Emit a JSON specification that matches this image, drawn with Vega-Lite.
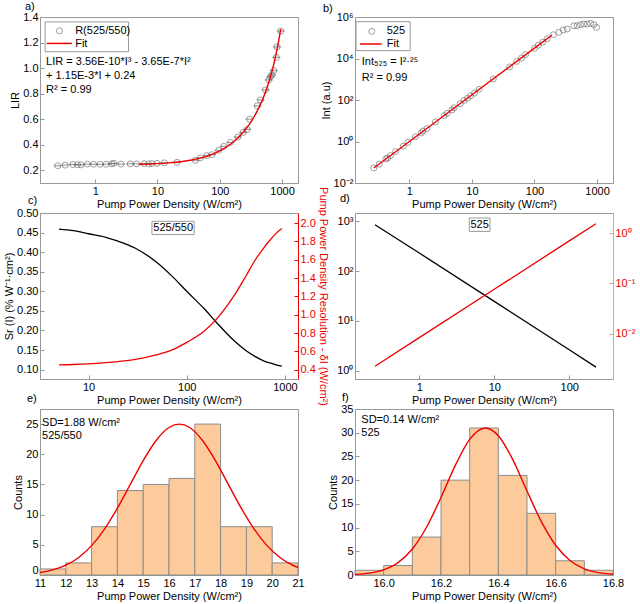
{
  "$schema": "https://vega.github.io/schema/vega-lite/v6.json",
  "padding": {"left": 3, "top": 0, "right": 4, "bottom": 2},
  "config": {
    "font": "Liberation Sans",
    "view": {"stroke": "#999999"},
    "axis": {"labelFont": "Liberation Sans", "titleFont": "Liberation Sans", "labelFontSize": 11, "titleFontSize": 11, "titleFontWeight": "normal", "labelColor": "#000000", "titleColor": "#000000", "domainColor": "#999999", "tickColor": "#999999", "tickSize": -4, "labelPadding": 6, "titlePadding": 2, "grid": false, "labelFlush": false, "labelOverlap": false},
    "title": {"fontSize": 11, "fontWeight": "normal", "font": "Liberation Sans", "anchor": "start", "frame": "group", "color": "#000000"},
    "text": {"font": "Liberation Sans", "fontSize": 11, "color": "#000000"}
  },
  "datasets": {
    "lirPts": [
      {"I": 0.25, "LIR": 0.235}, {"I": 0.33, "LIR": 0.24}, {"I": 0.44, "LIR": 0.245}, {"I": 0.52, "LIR": 0.243}, {"I": 0.59, "LIR": 0.242}, {"I": 0.75, "LIR": 0.248}, {"I": 0.94, "LIR": 0.247}, {"I": 1.2, "LIR": 0.246}, {"I": 1.5, "LIR": 0.247}, {"I": 1.85, "LIR": 0.25}, {"I": 2.0, "LIR": 0.254}, {"I": 2.6, "LIR": 0.248}, {"I": 3.65, "LIR": 0.25}, {"I": 4.6, "LIR": 0.25}, {"I": 6.1, "LIR": 0.252}, {"I": 7.2, "LIR": 0.25}, {"I": 8.1, "LIR": 0.252}, {"I": 9.8, "LIR": 0.254}, {"I": 12.9, "LIR": 0.258}, {"I": 20.6, "LIR": 0.262}, {"I": 40.5, "LIR": 0.278}, {"I": 48.8, "LIR": 0.297}, {"I": 62, "LIR": 0.315}, {"I": 75, "LIR": 0.322}, {"I": 96, "LIR": 0.356}, {"I": 116, "LIR": 0.387}, {"I": 148, "LIR": 0.418}, {"I": 194, "LIR": 0.46}, {"I": 237, "LIR": 0.496}, {"I": 275, "LIR": 0.52}, {"I": 300, "LIR": 0.6}, {"I": 400, "LIR": 0.704}, {"I": 450, "LIR": 0.751}, {"I": 541, "LIR": 0.829}, {"I": 612, "LIR": 0.907}, {"I": 650, "LIR": 0.933}, {"I": 690, "LIR": 0.946}, {"I": 735, "LIR": 0.98}, {"I": 810, "LIR": 1.084}, {"I": 830, "LIR": 1.166}, {"I": 950, "LIR": 1.29}
    ],
    "lirFit": [
      {"I": 5, "LIR": 0.2457}, {"I": 7, "LIR": 0.248}, {"I": 10, "LIR": 0.2514}, {"I": 15, "LIR": 0.2572}, {"I": 20, "LIR": 0.2629}, {"I": 30, "LIR": 0.2742}, {"I": 50, "LIR": 0.2966}, {"I": 70, "LIR": 0.3188}, {"I": 100, "LIR": 0.3517}, {"I": 150, "LIR": 0.4055}, {"I": 200, "LIR": 0.4583}, {"I": 300, "LIR": 0.5618}, {"I": 400, "LIR": 0.6644}, {"I": 500, "LIR": 0.7683}, {"I": 600, "LIR": 0.8755}, {"I": 700, "LIR": 0.9883}, {"I": 800, "LIR": 1.1087}, {"I": 900, "LIR": 1.2389}, {"I": 950, "LIR": 1.306}
    ],
    "intPts": [
      {"I": 0.27, "Int": 0.053}, {"I": 0.33, "Int": 0.08}, {"I": 0.42, "Int": 0.145}, {"I": 0.45, "Int": 0.16}, {"I": 0.5, "Int": 0.21}, {"I": 0.6, "Int": 0.33}, {"I": 0.8, "Int": 0.6}, {"I": 0.95, "Int": 0.9}, {"I": 1.25, "Int": 1.7}, {"I": 1.55, "Int": 2.6}, {"I": 1.65, "Int": 3.2}, {"I": 1.9, "Int": 4.2}, {"I": 2.6, "Int": 8.8}, {"I": 3.6, "Int": 17.5}, {"I": 4.0, "Int": 23}, {"I": 4.8, "Int": 33}, {"I": 5.2, "Int": 42}, {"I": 6.5, "Int": 66}, {"I": 7.5, "Int": 95}, {"I": 8.5, "Int": 120}, {"I": 9.5, "Int": 160}, {"I": 11, "Int": 215}, {"I": 13, "Int": 330}, {"I": 22, "Int": 1030}, {"I": 40, "Int": 3900}, {"I": 52, "Int": 7300}, {"I": 62, "Int": 10500}, {"I": 72, "Int": 15500}, {"I": 100, "Int": 31000}, {"I": 115, "Int": 44000}, {"I": 135, "Int": 61000}, {"I": 160, "Int": 90000}, {"I": 200, "Int": 140000}, {"I": 245, "Int": 182000}, {"I": 288, "Int": 237000}, {"I": 333, "Int": 263000}, {"I": 425, "Int": 380000}, {"I": 480, "Int": 380000}, {"I": 545, "Int": 427000}, {"I": 614, "Int": 457000}, {"I": 697, "Int": 457000}, {"I": 788, "Int": 490000}, {"I": 890, "Int": 427000}, {"I": 980, "Int": 316000}
    ],
    "intFit": [
      {"I": 0.27, "Int": 0.0526}, {"I": 1, "Int": 1}, {"I": 10, "Int": 177.8}, {"I": 100, "Int": 31623}, {"I": 191, "Int": 135600}
    ],
    "sensC": [
      {"I": 5, "Sr": 0.459, "dI": 0.455}, {"I": 7, "Sr": 0.455, "dI": 0.458}, {"I": 10, "Sr": 0.447, "dI": 0.465}, {"I": 15, "Sr": 0.438, "dI": 0.478}, {"I": 20, "Sr": 0.428, "dI": 0.49}, {"I": 30, "Sr": 0.41, "dI": 0.513}, {"I": 50, "Sr": 0.373, "dI": 0.565}, {"I": 70, "Sr": 0.34, "dI": 0.615}, {"I": 100, "Sr": 0.3, "dI": 0.7}, {"I": 150, "Sr": 0.256, "dI": 0.82}, {"I": 200, "Sr": 0.221, "dI": 0.95}, {"I": 300, "Sr": 0.175, "dI": 1.2}, {"I": 400, "Sr": 0.149, "dI": 1.42}, {"I": 500, "Sr": 0.133, "dI": 1.6}, {"I": 600, "Sr": 0.123, "dI": 1.72}, {"I": 700, "Sr": 0.117, "dI": 1.81}, {"I": 800, "Sr": 0.113, "dI": 1.88}, {"I": 930, "Sr": 0.109, "dI": 1.94}
    ],
    "sensD": [
      {"I": 0.257, "Sr": 853, "dI": 0.00226}, {"I": 1, "Sr": 231, "dI": 0.00836}, {"I": 10, "Sr": 24.7, "dI": 0.0764}, {"I": 100, "Sr": 2.64, "dI": 0.698}, {"I": 227, "Sr": 1.18, "dI": 1.53}
    ],
    "histE": [
      {"x0": 11, "x1": 12, "count": 1}, {"x0": 12, "x1": 13, "count": 2}, {"x0": 13, "x1": 14, "count": 8}, {"x0": 14, "x1": 15, "count": 14}, {"x0": 15, "x1": 16, "count": 15}, {"x0": 16, "x1": 17, "count": 16}, {"x0": 17, "x1": 18, "count": 25}, {"x0": 18, "x1": 19, "count": 8}, {"x0": 19, "x1": 20, "count": 8}, {"x0": 20, "x1": 21, "count": 2}
    ],
    "gaussE": [
      {"x": 11, "y": 0.404}, {"x": 11.5, "y": 0.837}, {"x": 12, "y": 1.616}, {"x": 12.5, "y": 2.91}, {"x": 13, "y": 4.87}, {"x": 13.5, "y": 7.61}, {"x": 14, "y": 11.07}, {"x": 14.5, "y": 15.0}, {"x": 15, "y": 18.95}, {"x": 15.5, "y": 22.29}, {"x": 16, "y": 24.44}, {"x": 16.4, "y": 25}, {"x": 16.8, "y": 24.44}, {"x": 17.3, "y": 22.29}, {"x": 17.8, "y": 18.95}, {"x": 18.3, "y": 15.0}, {"x": 18.8, "y": 11.07}, {"x": 19.3, "y": 7.61}, {"x": 19.8, "y": 4.87}, {"x": 20.3, "y": 2.91}, {"x": 20.8, "y": 1.616}, {"x": 21, "y": 1.25}
    ],
    "histF": [
      {"x0": 15.9, "x1": 16.0, "count": 1}, {"x0": 16.0, "x1": 16.1, "count": 2}, {"x0": 16.1, "x1": 16.2, "count": 8}, {"x0": 16.2, "x1": 16.3, "count": 20}, {"x0": 16.3, "x1": 16.4, "count": 31}, {"x0": 16.4, "x1": 16.5, "count": 21}, {"x0": 16.5, "x1": 16.6, "count": 13}, {"x0": 16.6, "x1": 16.7, "count": 3}, {"x0": 16.7, "x1": 16.8, "count": 1}
    ],
    "gaussF": [
      {"x": 15.9, "y": 0.125}, {"x": 15.95, "y": 0.39}, {"x": 16.0, "y": 1.08}, {"x": 16.05, "y": 2.6}, {"x": 16.1, "y": 5.48}, {"x": 16.15, "y": 10.12}, {"x": 16.2, "y": 16.35}, {"x": 16.25, "y": 23.11}, {"x": 16.3, "y": 28.6}, {"x": 16.355, "y": 31}, {"x": 16.4, "y": 29.37}, {"x": 16.45, "y": 24.38}, {"x": 16.5, "y": 17.71}, {"x": 16.55, "y": 11.26}, {"x": 16.6, "y": 6.27}, {"x": 16.65, "y": 3.05}, {"x": 16.7, "y": 1.3}, {"x": 16.75, "y": 0.49}, {"x": 16.8, "y": 0.16}
    ]
  },
  "columns": 2,
  "spacing": {"row": 30, "column": 57},
  "bounds": "flush",
  "concat": [
    {
      "width": 258, "height": 166,
      "title": {"text": "a)", "dx": -15, "offset": -1},
      "layer": [
        {
          "data": {"name": "lirPts"},
          "mark": {"type": "point", "filled": false, "size": 36, "strokeWidth": 0.9, "color": "#666666"},
          "encoding": {
            "x": {"field": "I", "type": "quantitative", "scale": {"type": "log", "domain": [0.13, 1800], "nice": false}, "axis": {"values": [1, 10, 100, 1000], "tickCount": 50, "format": "d", "labelOverlap": false, "title": "Pump Power Density (W/cm²)"}},
            "y": {"field": "LIR", "type": "quantitative", "scale": {"domain": [0.1, 1.4], "nice": false, "zero": false}, "axis": {"values": [0.2, 0.4, 0.6, 0.8, 1.0, 1.2, 1.4], "tickCount": 50, "format": ".1f", "labelOverlap": false, "title": "LIR"}}
          }
        },
        {
          "data": {"name": "lirPts"},
          "mark": {"type": "point", "shape": "stroke", "size": 64, "strokeWidth": 0.9, "color": "#555555"},
          "encoding": {"x": {"field": "I", "type": "quantitative", "scale": {"type": "log", "domain": [0.13, 1800], "nice": false}}, "y": {"field": "LIR", "type": "quantitative"}}
        },
        {
          "data": {"name": "lirFit"},
          "mark": {"type": "line", "strokeWidth": 1.4, "interpolate": "monotone", "color": "#ee0000"},
          "encoding": {"x": {"field": "I", "type": "quantitative", "scale": {"type": "log", "domain": [0.13, 1800], "nice": false}}, "y": {"field": "LIR", "type": "quantitative"}}
        },
        {
          "data": {"values": [{}]},
          "mark": {"type": "rect", "fill": "transparent", "stroke": "#999999", "strokeWidth": 1},
          "encoding": {"x": {"datum": 0.157}, "x2": {"datum": 3.43}, "y": {"datum": 1.361}, "y2": {"datum": 1.128}}
        },
        {
          "data": {"values": [{}]},
          "mark": {"type": "point", "filled": false, "size": 36, "strokeWidth": 0.9, "color": "#666666"},
          "encoding": {"x": {"datum": 0.267}, "y": {"datum": 1.291}}
        },
        {
          "data": {"values": [{}]},
          "mark": {"type": "rule", "color": "#ee0000", "strokeWidth": 1.5},
          "encoding": {"x": {"datum": 0.167}, "x2": {"datum": 0.422}, "y": {"datum": 1.193}}
        },
        {
          "data": {"values": [{}]},
          "mark": {"type": "text", "align": "left", "baseline": "middle", "fontSize": 11, "lineHeight": 12.6},
          "encoding": {"x": {"datum": 0.477}, "y": {"datum": 1.291}, "text": {"value": ["R(525/550)", "Fit"]}}
        },
        {
          "data": {"values": [{}]},
          "mark": {"type": "text", "align": "left", "baseline": "middle", "fontSize": 11, "lineHeight": 13.8},
          "encoding": {"x": {"datum": 0.163}, "y": {"datum": 1.048}, "text": {"value": ["LIR = 3.56E-10*I³ - 3.65E-7*I²", "+ 1.15E-3*I + 0.24", "R² = 0.99"]}}
        }
      ]
    },
    {
      "width": 258, "height": 166,
      "title": {"text": "b)", "dx": -32, "offset": -2.5},
      "layer": [
        {
          "data": {"name": "intPts"},
          "mark": {"type": "point", "filled": false, "size": 36, "strokeWidth": 0.9, "color": "#666666"},
          "encoding": {
            "x": {"field": "I", "type": "quantitative", "scale": {"type": "log", "domain": [0.135, 1800], "nice": false}, "axis": {"values": [1, 10, 100, 1000], "tickCount": 50, "format": "d", "labelOverlap": false, "title": "Pump Power Density (W/cm²)"}},
            "y": {"field": "Int", "type": "quantitative", "scale": {"type": "log", "domain": [0.01, 1000000], "nice": false}, "axis": {"values": [0.01, 1, 100, 10000, 1000000], "tickCount": 50, "labelOverlap": false, "title": "Int (a.u)", "labelExpr": "'10' + (round(log(datum.value)/LN10) < 0 ? '⁻' : '') + substring('⁰¹²³⁴⁵⁶⁷⁸⁹', abs(round(log(datum.value)/LN10)), abs(round(log(datum.value)/LN10)) + 1)"}}
          }
        },
        {
          "data": {"name": "intFit"},
          "mark": {"type": "line", "strokeWidth": 1.4, "color": "#ee0000"},
          "encoding": {"x": {"field": "I", "type": "quantitative", "scale": {"type": "log", "domain": [0.135, 1800], "nice": false}}, "y": {"field": "Int", "type": "quantitative", "scale": {"type": "log", "domain": [0.01, 1000000], "nice": false}}}
        },
        {
          "data": {"values": [{}]},
          "mark": {"type": "rect", "fill": "transparent", "stroke": "#999999", "strokeWidth": 1},
          "encoding": {"x": {"datum": 0.14}, "x2": {"datum": 1.03}, "y": {"datum": 594000}, "y2": {"datum": 24000}}
        },
        {
          "data": {"values": [{}]},
          "mark": {"type": "point", "filled": false, "size": 36, "strokeWidth": 0.9, "color": "#666666"},
          "encoding": {"x": {"datum": 0.25}, "y": {"datum": 203000}}
        },
        {
          "data": {"values": [{}]},
          "mark": {"type": "rule", "color": "#ee0000", "strokeWidth": 1.5},
          "encoding": {"x": {"datum": 0.162}, "x2": {"datum": 0.361}, "y": {"datum": 50000}}
        },
        {
          "data": {"values": [{}]},
          "mark": {"type": "text", "align": "left", "baseline": "middle", "fontSize": 11, "lineHeight": 12.6},
          "encoding": {"x": {"datum": 0.434}, "y": {"datum": 203000}, "text": {"value": ["525", "Fit"]}}
        },
        {
          "data": {"values": [{}]},
          "mark": {"type": "text", "align": "left", "baseline": "middle", "fontSize": 11, "lineHeight": 15.6},
          "encoding": {"x": {"datum": 0.173}, "y": {"datum": 6600}, "text": {"value": ["Int₅₂₅ = I²·²⁵", "R² = 0.99"]}}
        }
      ]
    },
    {
      "width": 258, "height": 166,
      "title": {"text": "c)", "dx": -12, "offset": -19},
      "resolve": {"scale": {"y": "independent"}},
      "layer": [
        {
          "layer": [
            {
              "data": {"name": "sensC"},
              "mark": {"type": "line", "color": "#000000", "strokeWidth": 1.3, "interpolate": "monotone"},
              "encoding": {
                "x": {"field": "I", "type": "quantitative", "scale": {"type": "log", "domain": [3.2, 1360], "nice": false}, "axis": {"values": [10, 100, 1000], "tickCount": 50, "format": "d", "labelOverlap": false, "title": "Pump Power Density (W/cm²)"}},
                "y": {"field": "Sr", "type": "quantitative", "scale": {"domain": [0.076, 0.5], "nice": false, "zero": false}, "axis": {"values": [0.1, 0.15, 0.2, 0.25, 0.3, 0.35, 0.4, 0.45, 0.5], "tickCount": 50, "format": ".2f", "labelOverlap": false, "title": "Sr (I) (% W⁻¹·cm²)"}}
              }
            },
            {
              "data": {"values": [{}]},
              "mark": {"type": "rect", "fill": "#ffffff", "stroke": "#999999", "strokeWidth": 1},
              "encoding": {"x": {"datum": 44.2}, "x2": {"datum": 119}, "y": {"datum": 0.4787}, "y2": {"datum": 0.4449}}
            },
            {
              "data": {"values": [{}]},
              "mark": {"type": "text", "fontSize": 11, "align": "center", "baseline": "middle"},
              "encoding": {"x": {"datum": 72.8}, "y": {"datum": 0.4619}, "text": {"value": "525/550"}}
            }
          ]
        },
        {
          "data": {"name": "sensC"},
          "mark": {"type": "line", "color": "#ee0000", "strokeWidth": 1.3, "interpolate": "monotone"},
          "encoding": {
            "x": {"field": "I", "type": "quantitative", "scale": {"type": "log", "domain": [3.2, 1360], "nice": false}},
            "y": {"field": "dI", "type": "quantitative", "scale": {"domain": [0.3, 2.11], "nice": false, "zero": false}, "axis": {"orient": "right", "values": [0.4, 0.6, 0.8, 1.0, 1.2, 1.4, 1.6, 1.8, 2.0], "tickCount": 50, "format": ".1f", "labelOverlap": false, "title": "Pump Power Density Resolution - δI (W/cm²)", "labelColor": "#ee0000", "titleColor": "#ee0000", "domainColor": "#ee0000", "tickColor": "#ee0000"}}
          }
        }
      ]
    },
    {
      "width": 258, "height": 166,
      "title": {"text": "d)", "dx": -15, "offset": 9},
      "resolve": {"scale": {"y": "independent"}},
      "layer": [
        {
          "layer": [
            {
              "data": {"name": "sensD"},
              "mark": {"type": "line", "color": "#000000", "strokeWidth": 1.3},
              "encoding": {
                "x": {"field": "I", "type": "quantitative", "scale": {"type": "log", "domain": [0.139, 383], "nice": false}, "axis": {"values": [1, 10, 100], "tickCount": 50, "format": "d", "labelOverlap": false, "title": "Pump Power Density (W/cm²)"}},
                "y": {"field": "Sr", "type": "quantitative", "scale": {"type": "log", "domain": [0.68, 1470], "nice": false}, "axis": {"values": [1, 10, 100, 1000], "tickCount": 50, "title": null, "labelOverlap": false, "labelExpr": "'10' + (round(log(datum.value)/LN10) < 0 ? '⁻' : '') + substring('⁰¹²³⁴⁵⁶⁷⁸⁹', abs(round(log(datum.value)/LN10)), abs(round(log(datum.value)/LN10)) + 1)"}}
              }
            },
            {
              "data": {"values": [{}]},
              "mark": {"type": "rect", "fill": "#ffffff", "stroke": "#999999", "strokeWidth": 1},
              "encoding": {"x": {"datum": 4.64}, "x2": {"datum": 8.77}, "y": {"datum": 1166}, "y2": {"datum": 628}}
            },
            {
              "data": {"values": [{}]},
              "mark": {"type": "text", "fontSize": 11, "align": "center", "baseline": "middle"},
              "encoding": {"x": {"datum": 6.38}, "y": {"datum": 853}, "text": {"value": "525"}}
            }
          ]
        },
        {
          "data": {"name": "sensD"},
          "mark": {"type": "line", "color": "#ee0000", "strokeWidth": 1.3},
          "encoding": {
            "x": {"field": "I", "type": "quantitative", "scale": {"type": "log", "domain": [0.139, 383], "nice": false}},
            "y": {"field": "dI", "type": "quantitative", "scale": {"type": "log", "domain": [0.00126, 2.5], "nice": false}, "axis": {"orient": "right", "values": [0.01, 0.1, 1], "tickCount": 50, "title": null, "labelOverlap": false, "labelColor": "#ee0000", "domainColor": "#f29a9a", "tickColor": "#f29a9a", "labelExpr": "'10' + (round(log(datum.value)/LN10) < 0 ? '⁻' : '') + substring('⁰¹²³⁴⁵⁶⁷⁸⁹', abs(round(log(datum.value)/LN10)), abs(round(log(datum.value)/LN10)) + 1)"}}
          }
        }
      ]
    },
    {
      "width": 258, "height": 166,
      "title": {"text": "e)", "dx": -13, "offset": 5},
      "layer": [
        {
          "data": {"name": "histE"},
          "mark": {"type": "rect", "fill": "#fdcb9b", "stroke": "#8c8c8c", "strokeWidth": 1},
          "encoding": {
            "x": {"field": "x0", "type": "quantitative", "scale": {"domain": [11, 21], "nice": false, "zero": false}, "axis": {"values": [11, 12, 13, 14, 15, 16, 17, 18, 19, 20, 21], "tickCount": 50, "format": "d", "labelOverlap": false, "title": "Pump Power Density (W/cm²)"}},
            "x2": {"field": "x1"},
            "y": {"field": "count", "type": "quantitative", "scale": {"domain": [0, 27.5], "nice": false}, "axis": {"values": [0, 5, 10, 15, 20, 25], "tickCount": 50, "format": "d", "labelOverlap": false, "title": "Counts", "labelOffset": {"condition": {"test": "datum.value == 0", "value": -5}, "value": 0}}},
            "y2": {"datum": 0}
          }
        },
        {
          "data": {"name": "gaussE"},
          "mark": {"type": "line", "color": "#ee0000", "strokeWidth": 1.4, "interpolate": "monotone"},
          "encoding": {"x": {"field": "x", "type": "quantitative", "scale": {"domain": [11, 21], "nice": false, "zero": false}}, "y": {"field": "y", "type": "quantitative", "scale": {"domain": [0, 27.5], "nice": false}}}
        },
        {
          "data": {"values": [{}]},
          "mark": {"type": "text", "align": "left", "baseline": "middle", "fontSize": 11, "lineHeight": 12.7},
          "encoding": {"x": {"datum": 11.08}, "y": {"datum": 25.2}, "text": {"value": ["SD=1.88 W/cm²", "525/550"]}}
        }
      ]
    },
    {
      "width": 258, "height": 166,
      "title": {"text": "f)", "dx": -13, "offset": 0},
      "layer": [
        {
          "data": {"name": "histF"},
          "mark": {"type": "rect", "fill": "#fdcb9b", "stroke": "#8c8c8c", "strokeWidth": 1},
          "encoding": {
            "x": {"field": "x0", "type": "quantitative", "scale": {"domain": [15.9, 16.8], "nice": false, "zero": false}, "axis": {"values": [16.0, 16.2, 16.4, 16.6, 16.8], "tickCount": 50, "format": ".1f", "labelOverlap": false, "title": "Pump Power Density (W/cm²)"}},
            "x2": {"field": "x1"},
            "y": {"field": "count", "type": "quantitative", "scale": {"domain": [0, 35], "nice": false}, "axis": {"values": [0, 5, 10, 15, 20, 25, 30, 35], "tickCount": 50, "format": "d", "labelOverlap": false, "title": "Counts"}},
            "y2": {"datum": 0}
          }
        },
        {
          "data": {"name": "gaussF"},
          "mark": {"type": "line", "color": "#ee0000", "strokeWidth": 1.4, "interpolate": "monotone"},
          "encoding": {"x": {"field": "x", "type": "quantitative", "scale": {"domain": [15.9, 16.8], "nice": false, "zero": false}}, "y": {"field": "y", "type": "quantitative", "scale": {"domain": [0, 35], "nice": false}}}
        },
        {
          "data": {"values": [{}]},
          "mark": {"type": "text", "align": "left", "baseline": "middle", "fontSize": 11, "lineHeight": 12.7},
          "encoding": {"x": {"datum": 15.922}, "y": {"datum": 32.6}, "text": {"value": ["SD=0.14 W/cm²", "525"]}}
        }
      ]
    }
  ]
}
